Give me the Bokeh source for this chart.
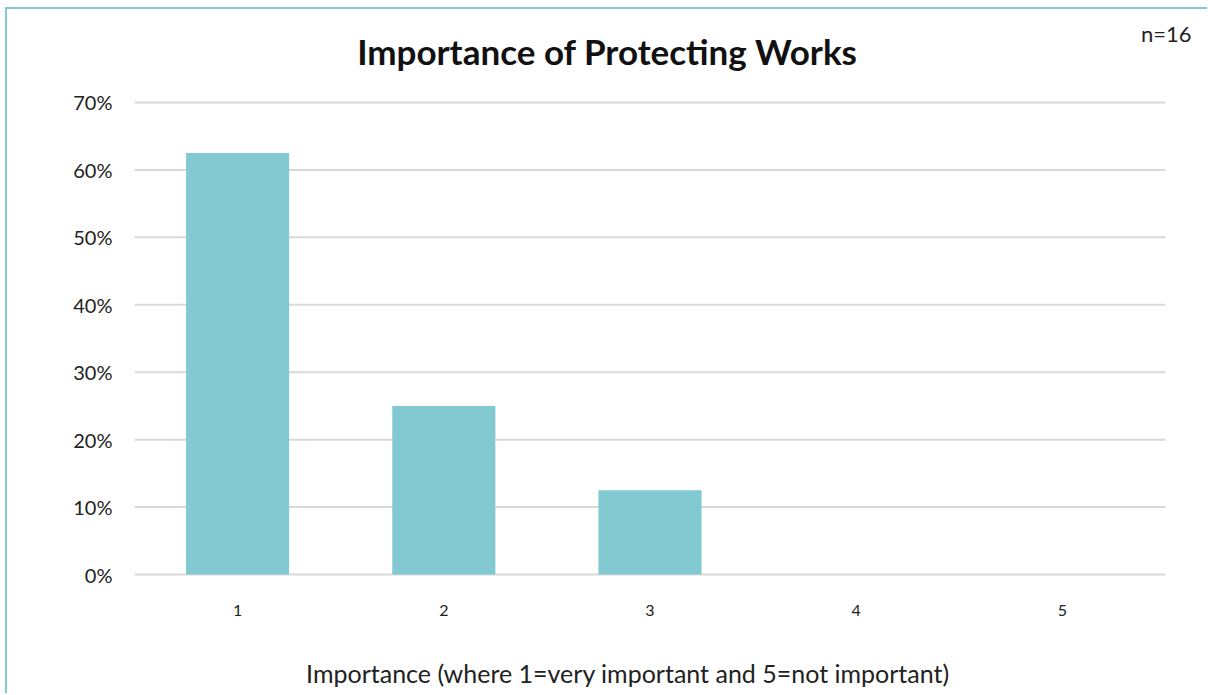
from bokeh.plotting import figure
from bokeh.models import Label, Range1d, NumeralTickFormatter, FixedTicker
from bokeh.core.properties import value
from bokeh.embed import file_html
from bokeh.resources import INLINE

categories = [1, 2, 3, 4, 5]
category_labels = ["1", "2", "3", "4", "5"]
shares = [0.625, 0.25, 0.125, 0.0, 0.0]
y_ticks = [0.0, 0.1, 0.2, 0.3, 0.4, 0.5, 0.6, 0.7]

title_text = "Importance of Protecting Works"
n_text = "n=16"
x_label_text = "Importance (where 1=very important and 5=not important)"

FONT = "Lato"
BAR = "#82C9D2"
EDGE = "#84C9D2"
GRID = "#D9D9D9"
TEXT = "#222222"

p = figure(x_range=Range1d(0.5, 5.7134), y_range=Range1d(-0.1794, 0.8379),
           width=1202, height=686, output_backend="svg", toolbar_location=None,
           min_border_left=127, min_border_right=0, min_border_top=0, min_border_bottom=0)
p.styles = {"margin-left": "5px", "margin-top": "7px",
            "border-left": f"2px solid {EDGE}", "border-top": f"2px solid {EDGE}"}
p.outline_line_color = None
p.background_fill_color = "white"
p.border_fill_color = "white"

# horizontal gridlines limited to the category span
p.segment(x0=[categories[0] - 0.5] * len(y_ticks), x1=[categories[-1] + 0.5] * len(y_ticks),
          y0=y_ticks, y1=y_ticks, line_color=GRID, line_width=2)

p.vbar(x=categories, top=shares, width=0.5, fill_color=BAR, line_color=None)

# category labels under the baseline
p.text(x=categories, y=[0] * len(categories), text=category_labels, y_offset=36,
       text_font=value(FONT), text_font_size="16px", text_color=TEXT,
       text_align="center", text_baseline="middle")

p.xaxis.visible = False
p.yaxis.ticker = FixedTicker(ticks=y_ticks)
p.yaxis.formatter = NumeralTickFormatter(format="0%")
p.yaxis.axis_line_color = None
p.yaxis.major_tick_line_color = None
p.yaxis.minor_tick_line_color = None
p.yaxis.major_label_text_font = FONT
p.yaxis.major_label_text_color = TEXT
p.yaxis.major_label_text_font_size = "20px"
p.yaxis.major_label_standoff = 16
p.xgrid.grid_line_color = None
p.ygrid.grid_line_color = None

p.add_layout(Label(x=2.794, y=0.776, text=title_text,
                   text_font=FONT, text_font_size="35px", text_font_style="bold",
                   text_align="center", text_baseline="middle", text_color="#111111"))
p.add_layout(Label(x=5.626, y=0.803, text=n_text,
                   text_font=FONT, text_font_size="22px",
                   text_align="right", text_baseline="middle", text_color=TEXT))
p.add_layout(Label(x=2.893, y=-0.1453, text=x_label_text,
                   text_font=FONT, text_font_size="25px",
                   text_align="center", text_baseline="middle", text_color=TEXT))

open("out.html", "w").write(file_html(p, INLINE))
